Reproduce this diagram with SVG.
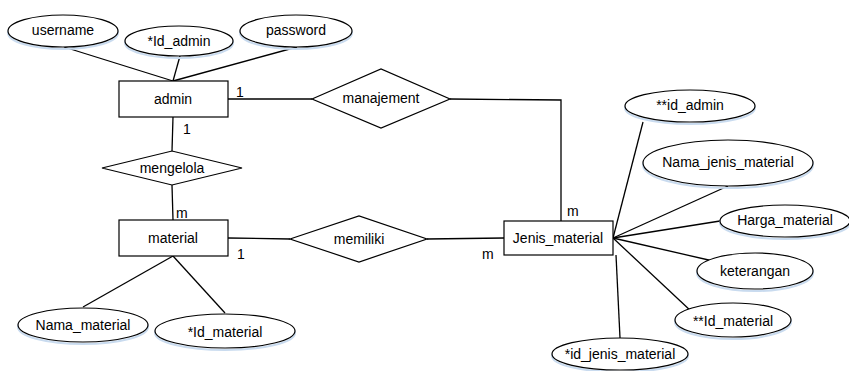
<svg xmlns="http://www.w3.org/2000/svg" width="849" height="371" viewBox="0 0 849 371">
<style>
text{font-family:"Liberation Sans",Arial,sans-serif;font-size:14px;fill:#000;text-anchor:middle;dominant-baseline:central}
.lbl{text-anchor:start;dominant-baseline:auto}
.ent{fill:#fff;stroke:#000;stroke-width:1.2}
.att{fill:#fff;stroke:#000;stroke-width:1.2}
.sh{fill:none;stroke:#c9dbef;stroke-width:2}
.rel{fill:#fff;stroke:#000;stroke-width:1.2}
#connectors line,#connectors polyline{stroke:#000;stroke-width:1.3;fill:none}
</style>
<rect width="849" height="371" fill="#fff"/>
<g id="connectors">
<line x1="64" y1="47" x2="173" y2="81"/>
<line x1="180" y1="56" x2="173" y2="81"/>
<line x1="297" y1="47" x2="173" y2="81"/>
<line x1="228" y1="99" x2="312" y2="99"/>
<polyline points="450,99 561,100 561,221"/>
<line x1="173" y1="117" x2="172" y2="151"/>
<line x1="172" y1="185" x2="173" y2="220"/>
<line x1="228" y1="238" x2="290" y2="239"/>
<line x1="427" y1="239" x2="504" y2="238"/>
<line x1="173" y1="256" x2="83" y2="307"/>
<line x1="173" y1="256" x2="225" y2="313"/>
<line x1="613" y1="238" x2="643" y2="122"/>
<line x1="613" y1="238" x2="728" y2="186"/>
<line x1="613" y1="238" x2="720" y2="221"/>
<line x1="613" y1="238" x2="713" y2="261"/>
<line x1="613" y1="238" x2="692" y2="312"/>
<line x1="616" y1="255" x2="620" y2="338"/>
</g>
<g id="labels">
<text class="lbl" x="236" y="97">1</text>
<text class="lbl" x="183" y="134">1</text>
<text class="lbl" x="176" y="218">m</text>
<text class="lbl" x="237" y="259">1</text>
<text class="lbl" x="482" y="259">m</text>
<text class="lbl" x="567" y="216">m</text>
</g>
<g id="username"><ellipse class="sh" cx="63" cy="33" rx="55" ry="16"/><ellipse class="att" cx="63" cy="31" rx="55" ry="16"/><text x="63" y="30">username</text></g>
<g id="id_admin"><ellipse class="sh" cx="179" cy="43" rx="54" ry="15"/><ellipse class="att" cx="179" cy="41" rx="54" ry="15"/><text x="179" y="41">*Id_admin</text></g>
<g id="password"><ellipse class="sh" cx="296" cy="33" rx="56" ry="16"/><ellipse class="att" cx="296" cy="31" rx="56" ry="16"/><text x="296" y="30">password</text></g>
<g id="admin"><rect class="ent" x="119" y="81" width="109" height="36"/><text x="173" y="99">admin</text></g>
<g id="manajemen"><polygon class="rel" points="312,99 381,69 450,99 381,128"/><text x="381" y="98">manajement</text></g>
<g id="mengelola"><polygon class="rel" points="102,168 172,151 242,168 172,185"/><text x="172" y="168">mengelola</text></g>
<g id="material"><rect class="ent" x="119" y="220" width="109" height="36"/><text x="173" y="238">material</text></g>
<g id="memiliki"><polygon class="rel" points="290,239 359,216 427,239 359,262"/><text x="359" y="239">memiliki</text></g>
<g id="jenis_material"><rect class="ent" x="504" y="221" width="109" height="34"/><text x="558" y="238">Jenis_material</text></g>
<g id="nama_material"><ellipse class="sh" cx="83" cy="327" rx="65" ry="17"/><ellipse class="att" cx="83" cy="325" rx="65" ry="17"/><text x="83" y="325">Nama_material</text></g>
<g id="id_material"><ellipse class="sh" cx="225" cy="333" rx="70" ry="17"/><ellipse class="att" cx="225" cy="331" rx="70" ry="17"/><text x="225" y="332">*Id_material</text></g>
<g id="fk_id_admin"><ellipse class="sh" cx="690" cy="108" rx="65" ry="16"/><ellipse class="att" cx="690" cy="106" rx="65" ry="16"/><text x="690" y="105">**id_admin</text></g>
<g id="nama_jenis_material"><ellipse class="sh" cx="728" cy="165" rx="85" ry="23"/><ellipse class="att" cx="728" cy="163" rx="85" ry="23"/><text x="728" y="162">Nama_jenis_material</text></g>
<g id="harga_material"><ellipse class="sh" cx="785" cy="223" rx="65" ry="16"/><ellipse class="att" cx="785" cy="221" rx="65" ry="16"/><text x="785" y="220">Harga_material</text></g>
<g id="keterangan"><ellipse class="sh" cx="755" cy="273" rx="58" ry="18"/><ellipse class="att" cx="755" cy="271" rx="58" ry="18"/><text x="755" y="271">keterangan</text></g>
<g id="fk_id_material"><ellipse class="sh" cx="733" cy="322" rx="58" ry="17"/><ellipse class="att" cx="733" cy="320" rx="58" ry="17"/><text x="733" y="321">**Id_material</text></g>
<g id="id_jenis_material"><ellipse class="sh" cx="620" cy="356" rx="68" ry="16"/><ellipse class="att" cx="620" cy="354" rx="68" ry="16"/><text x="620" y="354">*id_jenis_material</text></g>
</svg>
